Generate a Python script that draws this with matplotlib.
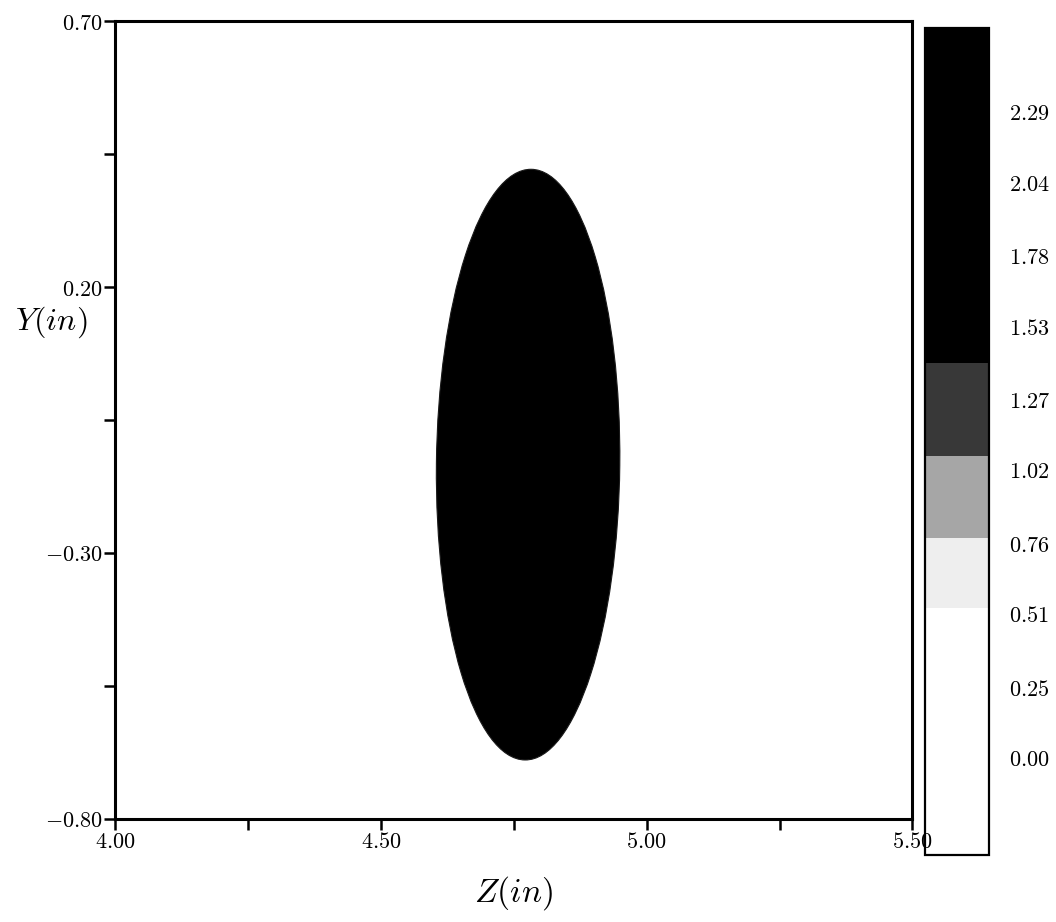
import numpy as np
import matplotlib
matplotlib.use("Agg")
import matplotlib.pyplot as plt
from matplotlib.colors import ListedColormap, BoundaryNorm
from matplotlib.ticker import FixedLocator, FuncFormatter
from matplotlib.patches import Ellipse

plt.rcParams['mathtext.fontset'] = 'cm'
plt.rcParams['font.family'] = 'serif'

# filled region (inches)
region_center = (4.777, -0.134)
region_width = 0.345
region_height = 1.111
region_tilt = -0.6
inside_value = 2.45

# colour bar
cb_bounds = [-0.344, 0.53, 0.78, 1.07, 1.40, 2.588]
cb_colors = ['#ffffff', '#eeeeee', '#a6a6a6', '#383838', '#000000']
cb_ticks = [0.00, 0.25, 0.51, 0.76, 1.02, 1.27, 1.53, 1.78, 2.04, 2.29]

x_major = [4.0, 4.5, 5.0, 5.5]
x_minor = [4.25, 4.75, 5.25]
y_major = [-0.8, -0.3, 0.2, 0.7]
y_minor = [-0.55, -0.05, 0.45]

cmap = ListedColormap(cb_colors)
norm = BoundaryNorm(cb_bounds, cmap.N)

fig = plt.figure(figsize=(10.56, 9.22), dpi=100)
ax = fig.add_axes([0.109, 0.112, 0.755, 0.865])
cax = fig.add_axes([0.876, 0.073, 0.061, 0.897])
ax.set_zorder(3)

blob = Ellipse(region_center, region_width, region_height, angle=region_tilt,
               facecolor=cmap(norm(inside_value)), edgecolor='#1a1a1a', linewidth=0.8)
ax.add_patch(blob)

ax.set_xlim(4.0, 5.5)
ax.set_ylim(-0.8, 0.7)

def fmt(v, pos):
    return r'$\mathbf{%.2f}$' % v

ax.xaxis.set_major_locator(FixedLocator(x_major))
ax.xaxis.set_minor_locator(FixedLocator(x_minor))
ax.yaxis.set_major_locator(FixedLocator(y_major))
ax.yaxis.set_minor_locator(FixedLocator(y_minor))
ax.xaxis.set_major_formatter(FuncFormatter(fmt))
ax.yaxis.set_major_formatter(FuncFormatter(fmt))
ax.tick_params(which='both', direction='out', length=8, width=1.8,
               top=False, right=False, labelsize=16, pad=1)
for s in ax.spines.values():
    s.set_linewidth(2.2)

ax.set_xlabel(r'$Z(in)$', fontsize=24, labelpad=15)
ax.set_ylabel(r'$Y(in)$', fontsize=23, rotation=0, va='center', ha='center')
ax.yaxis.set_label_coords(-0.080, 0.622)

cb = fig.colorbar(plt.cm.ScalarMappable(norm=norm, cmap=cmap), cax=cax,
                  boundaries=cb_bounds, spacing='proportional')
cb.set_ticks(cb_ticks)
cb.set_ticklabels([r'$\mathbf{%.2f}$' % t for t in cb_ticks])
cax.minorticks_off()
cax.tick_params(which='both', length=0, labelsize=16, pad=14)
cb.outline.set_linewidth(1.6)

plt.savefig('out.png', dpi=100)
